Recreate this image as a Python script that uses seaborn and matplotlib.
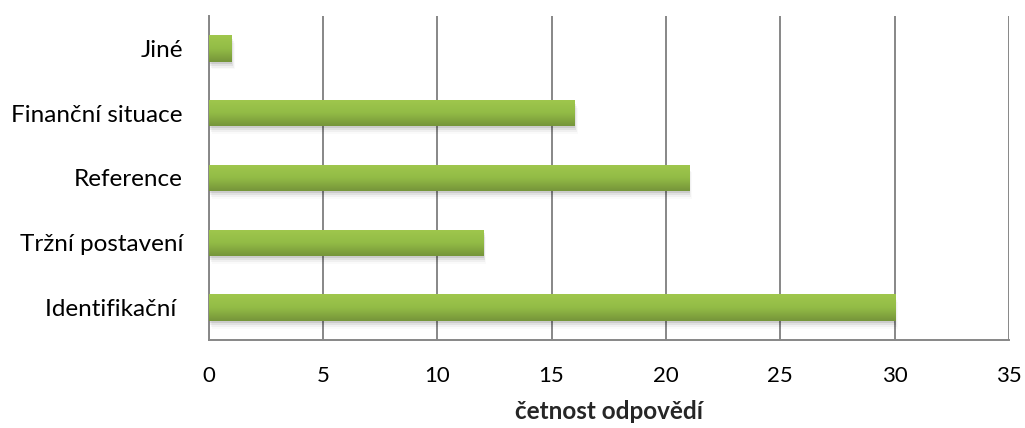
import numpy as np
import pandas as pd
import matplotlib
matplotlib.use("Agg")
import matplotlib.pyplot as plt
import seaborn as sns
from matplotlib.colors import LinearSegmentedColormap
from matplotlib.patches import Rectangle

categories = ["Jiné", "Finanční situace", "Reference", "Tržní postavení", "Identifikační "]
values = [1, 16, 21, 12, 30]
x_ticks = [0, 5, 10, 15, 20, 25, 30, 35]
x_label = "četnost odpovědí"

sns.set_theme(style="white")
plt.rcParams['font.family'] = ['Lato', 'DejaVu Sans']

df = pd.DataFrame({"kategorie": categories, "cetnost": values})

fig = plt.figure(figsize=(10.25, 4.28), dpi=100)
L, R, T, B = 208.5, 1009, 16, 340
ax = fig.add_axes([L/1025, 1 - B/428, (R - L)/1025, (B - T)/428])

sns.barplot(data=df, y="kategorie", x="cetnost", order=categories, orient="h",
            color="#8DB545", width=0.41, ax=ax, zorder=3)

ax.set_xlim(0, 35)
ax.set_ylim(4.5, -0.5)

# gradient + soft shadow on bars
cmap = LinearSegmentedColormap.from_list("g", ["#A0C74D", "#93BC46", "#76953A"])
grad = np.linspace(0, 1, 64).reshape(-1, 1)
for p in list(ax.patches):
    x0, y0 = p.get_x(), p.get_y()
    w, h = p.get_width(), p.get_height()
    for k, a in enumerate([0.09, 0.06, 0.04, 0.02]):
        sh = Rectangle((x0 + 0.035 * (k + 1), y0 + 0.03 * (k + 1)), w, h,
                       facecolor="black", alpha=a, edgecolor="none", zorder=2)
        ax.add_patch(sh)
    p.set_edgecolor("none")
    im = ax.imshow(grad, extent=[x0, x0 + w, y0 + h, y0], aspect="auto",
                   cmap=cmap, zorder=4, interpolation="bicubic")
    im.set_clip_path(p)

ax.set_xticks(x_ticks)
ax.set_xticklabels([str(t) for t in x_ticks], fontsize=16)
ax.grid(axis="x", color="#878787", linewidth=1.4, zorder=0)
ax.set_axisbelow(True)

ax.set_yticks(range(len(categories)))
ax.set_yticklabels(categories, fontsize=17.5)
ax.set_yticks(np.arange(-0.5, len(categories), 1), minor=True)
ax.tick_params(axis="y", which="major", length=0, pad=18.4)
ax.tick_params(axis="y", which="minor", length=6, width=1.4, color="#878787", direction="out")
ax.tick_params(axis="x", which="major", length=6, width=1.4, color="#878787", direction="out", pad=13)
ax.tick_params(labelcolor="black")

for s in ["top", "right"]:
    ax.spines[s].set_visible(False)
for s in ["left", "bottom"]:
    ax.spines[s].set_color("#878787")
    ax.spines[s].set_linewidth(1.4)

ax.set_ylabel("")
ax.set_xlabel(x_label, fontsize=17.5, fontweight="bold", labelpad=10)

fig.savefig("out.png", dpi=100)
